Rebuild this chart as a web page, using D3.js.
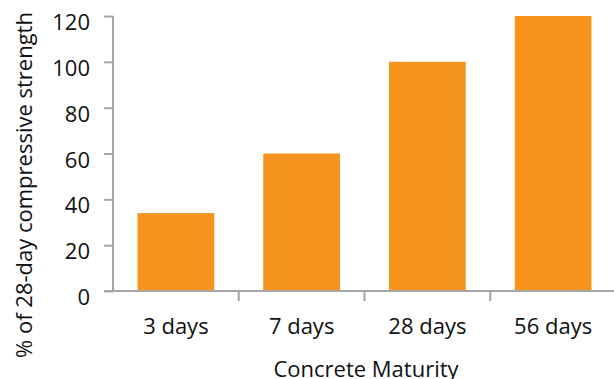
<!DOCTYPE html>
<html>
<head>
<meta charset="utf-8">
<script src="https://cdn.jsdelivr.net/npm/d3@7"></script>
<style>
  body { margin: 0; background: #fff; }
  svg { display: block; }
  text { font-family: "Open Sans", sans-serif; fill: #111; }
</style>
</head>
<body>
<div id="chart"></div>
<script>
var categories = ["3 days", "7 days", "28 days", "56 days"];
var strength = [34, 60, 100, 120];
var yTicks = [0, 20, 40, 60, 80, 100, 120];

var width = 614, height = 379;
var mLeft = 113, mTop = 16, mBottom = 291, mRight = 614;
var bandEnd = 614 + 2;

var svg = d3.select("#chart").append("svg")
    .attr("width", width).attr("height", height);

var x = d3.scaleBand().domain(categories).range([mLeft, bandEnd])
    .paddingInner(0.39).paddingOuter(0.195);
var xb = d3.scaleBand().domain(categories).range([mLeft, bandEnd]);
var y = d3.scaleLinear().domain([0, 120]).range([mBottom, mTop]);

// bars
svg.append("g").selectAll("rect")
    .data(strength)
    .enter()
    .append("rect")
    .attr("x", function(d, i) { return x(categories[i]); })
    .attr("y", function(d) { return y(d); })
    .attr("width", x.bandwidth())
    .attr("height", function(d) { return y(0) - y(d); })
    .attr("fill", "#f6941f");

// y axis
var ya = svg.append("g").attr("class", "axis")
    .attr("transform", "translate(" + mLeft + ",0)")
    .call(d3.axisLeft(y).tickValues(yTicks).tickSize(9).tickPadding(14));
ya.selectAll("text").style("font-size", "22px").attr("dy", "0.62em")
    .style("font-family", "'Open Sans', sans-serif").attr("fill", "#111");
ya.selectAll("line").attr("stroke", "#a6a6a6").attr("stroke-width", 2);
ya.select("path").attr("stroke", "#a6a6a6").attr("stroke-width", 2)
    .attr("d", "M0," + mTop + "V" + mBottom);

// x axis, ticks between categories
var xa = svg.append("g").attr("class", "axis")
    .attr("transform", "translate(0," + mBottom + ")")
    .call(d3.axisBottom(x).tickSize(0).tickPadding(27));
xa.selectAll("text").style("font-size", "22px")
    .style("font-family", "'Open Sans', sans-serif").attr("fill", "#111");
xa.select("path").attr("stroke", "#a6a6a6").attr("stroke-width", 2)
    .attr("d", "M" + (mLeft - 9) + ",0H" + mRight);
xa.selectAll(".sep")
    .data(categories.slice(1))
    .enter()
    .append("line")
    .attr("class", "sep")
    .attr("x1", function(d) { return xb(d); })
    .attr("x2", function(d) { return xb(d); })
    .attr("y1", 0).attr("y2", 10)
    .attr("stroke", "#a6a6a6").attr("stroke-width", 2);

// titles
svg.append("text")
    .attr("x", 366).attr("y", 377)
    .attr("text-anchor", "middle")
    .style("font-size", "22px")
    .text("Concrete Maturity");

svg.append("text")
    .attr("transform", "translate(32,185) rotate(-90)")
    .attr("text-anchor", "middle")
    .style("font-size", "22px")
    .text("% of 28-day compressive strength");
</script>
</body>
</html>
